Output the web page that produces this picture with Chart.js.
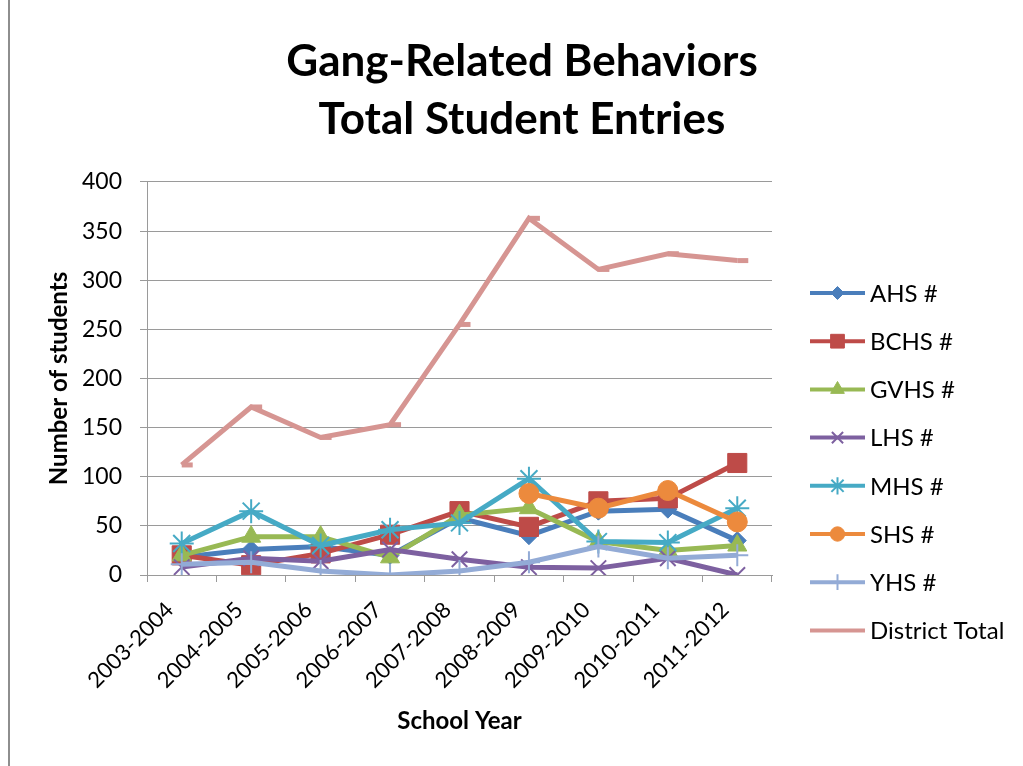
<!DOCTYPE html>
<html>
<head>
<meta charset="utf-8">
<title>Gang-Related Behaviors</title>
<script src="https://cdn.jsdelivr.net/npm/chart.js@4.4.1/dist/chart.umd.min.js"></script>
<style>
  html, body { margin: 0; padding: 0; background: #fff; }
  #wrap { position: relative; width: 1023px; height: 766px; }
  #frame { position: absolute; left: 8px; top: 0; height: 766px; border-left: 2px solid #8e8e8e; }
</style>
</head>
<body>
<div id="wrap">
  <div id="frame"></div>
  <canvas id="chart"></canvas>
</div>
<script>
// School years on the category axis
var years = ['2003-2004', '2004-2005', '2005-2006', '2006-2007', '2007-2008',
             '2008-2009', '2009-2010', '2010-2011', '2011-2012'];

// Student entries per school
var ahs  = [18, 26, 29, 20, 58, 40, 65, 67, 35];
var bchs = [20, 10, 22, 41, 65, 49, 75, 78, 114];
var gvhs = [20, 39, 39, 18, 61, 68, 34, 25, 30];
var lhs  = [8, 17, 14, 26, 16, 8, 7, 17, 0];
var mhs  = [32, 65, 30, 46, 53, 98, 34, 33, 68];
var shs  = [null, null, null, null, null, 83, 68, 86, 54];
var yhs  = [11, 13, 4, 0, 4, 13, 29, 17, 20];
var districtTotal = [112, 171, 140, 153, 255, 363, 311, 327, 320];

var yTicks = [0, 50, 100, 150, 200, 250, 300, 350, 400];

var FONT = 'Lato, Carlito, Calibri, sans-serif';

function series(label, values, color, style, radius, strokeOnly) {
  return {
    label: label,
    data: values,
    borderColor: color,
    backgroundColor: color,
    borderWidth: 5,
    pointStyle: style,
    pointRadius: radius,
    pointHoverRadius: radius,
    pointBackgroundColor: color,
    pointBorderColor: color,
    pointBorderWidth: strokeOnly ? 2 : 1,
    tension: 0,
    spanGaps: false,
    xAxisID: 'x',
    yAxisID: 'y'
  };
}

var datasets = [
  series('AHS #', ahs, '#4a7ebb', 'rectRot', 9),
  series('BCHS #', bchs, '#be4b48', 'rect', 13.5),
  series('GVHS #', gvhs, '#98b954', 'triangle', 11),
  series('LHS #', lhs, '#7d60a0', 'crossRot', 11, true),
  series('MHS #', mhs, '#46aac5', 'star', 12, true),
  series('SHS #', shs, '#ec8a3d', 'circle', 10),
  series('YHS #', yhs, '#93abd6', 'cross', 11, true),
  series('District Total', districtTotal, '#d69592', 'dash', 11)
];
datasets[7].pointBorderWidth = 5;

// later series sit on top of earlier ones
datasets.forEach(function (ds, i) { ds.order = datasets.length - i; });

// Line-and-marker legend drawn in the space kept free on the right
var sideLegend = {
  id: 'sideLegend',
  afterDraw: function (chart) {
    var ctx = chart.ctx;
    var x0 = 810, x1 = 865, top = 293, step = 48.2;
    chart.data.datasets.forEach(function (ds, i) {
      var y = top + i * step;
      ctx.save();
      ctx.strokeStyle = ds.borderColor;
      ctx.lineWidth = 4;
      ctx.beginPath();
      ctx.moveTo(x0, y);
      ctx.lineTo(x1, y);
      ctx.stroke();
      if (ds.pointStyle !== 'dash') {
        ctx.fillStyle = ds.pointBackgroundColor;
        ctx.strokeStyle = ds.pointBorderColor;
        ctx.lineWidth = ds.pointBorderWidth;
        Chart.helpers.drawPoint(ctx, {
          pointStyle: ds.pointStyle,
          radius: ds.pointRadius * 0.72,
          rotation: 0,
          borderWidth: ds.pointBorderWidth
        }, (x0 + x1) / 2, y);
      }
      ctx.fillStyle = '#000';
      ctx.font = '24px ' + FONT;
      ctx.textBaseline = 'middle';
      ctx.textAlign = 'left';
      ctx.fillText(ds.label, 870, y + 1);
      ctx.restore();
    });
  }
};

new Chart(document.getElementById('chart'), {
  type: 'line',
  data: { labels: years, datasets: datasets },
  plugins: [sideLegend],
  options: {
    responsive: true,
    maintainAspectRatio: false,
    animation: false,
    layout: { padding: { left: 21, right: 0, top: 0, bottom: 20 } },
    plugins: {
      legend: { display: false },
      tooltip: { enabled: false },
      title: {
        display: true,
        text: ['Gang-Related Behaviors', 'Total Student Entries'],
        color: '#000',
        font: { family: FONT, size: 44, weight: 'bold', lineHeight: 1.318 },
        padding: { top: 33, bottom: 33 }
      }
    },
    scales: {
      x: {
        offset: true,
        grid: { offset: true, drawOnChartArea: false, tickLength: 7, color: '#9a9a9a' },
        border: { color: '#9a9a9a' },
        ticks: {
          color: '#000',
          font: { family: FONT, size: 22 },
          minRotation: 45,
          maxRotation: 45,
          autoSkip: false,
          padding: 15,
          labelOffset: -12
        },
        title: {
          display: true,
          text: 'School Year',
          color: '#000',
          font: { family: FONT, size: 24, weight: 'bold' },
          padding: { top: 0, bottom: 10 }
        },
        afterFit: function (s) { s.height = 171; }
      },
      y: {
        min: 0,
        max: 400,
        afterBuildTicks: function (s) {
          s.ticks = yTicks.map(function (v) { return { value: v }; });
        },
        grid: { color: '#9a9a9a', tickLength: 7 },
        border: { color: '#9a9a9a' },
        ticks: { color: '#000', font: { family: FONT, size: 23 }, padding: 18 },
        title: {
          display: true,
          text: 'Number of students',
          color: '#000',
          font: { family: FONT, size: 24, weight: 'bold' },
          padding: { top: 24, bottom: 0 }
        },
        afterFit: function (s) { s.width = 126; }
      },
      // empty axis that keeps room for the legend
      legendSpace: {
        type: 'linear',
        position: 'right',
        display: true,
        grid: { display: false },
        border: { display: false },
        ticks: { display: false },
        afterFit: function (s) { s.width = 251; }
      }
    }
  }
});
</script>
</body>
</html>
